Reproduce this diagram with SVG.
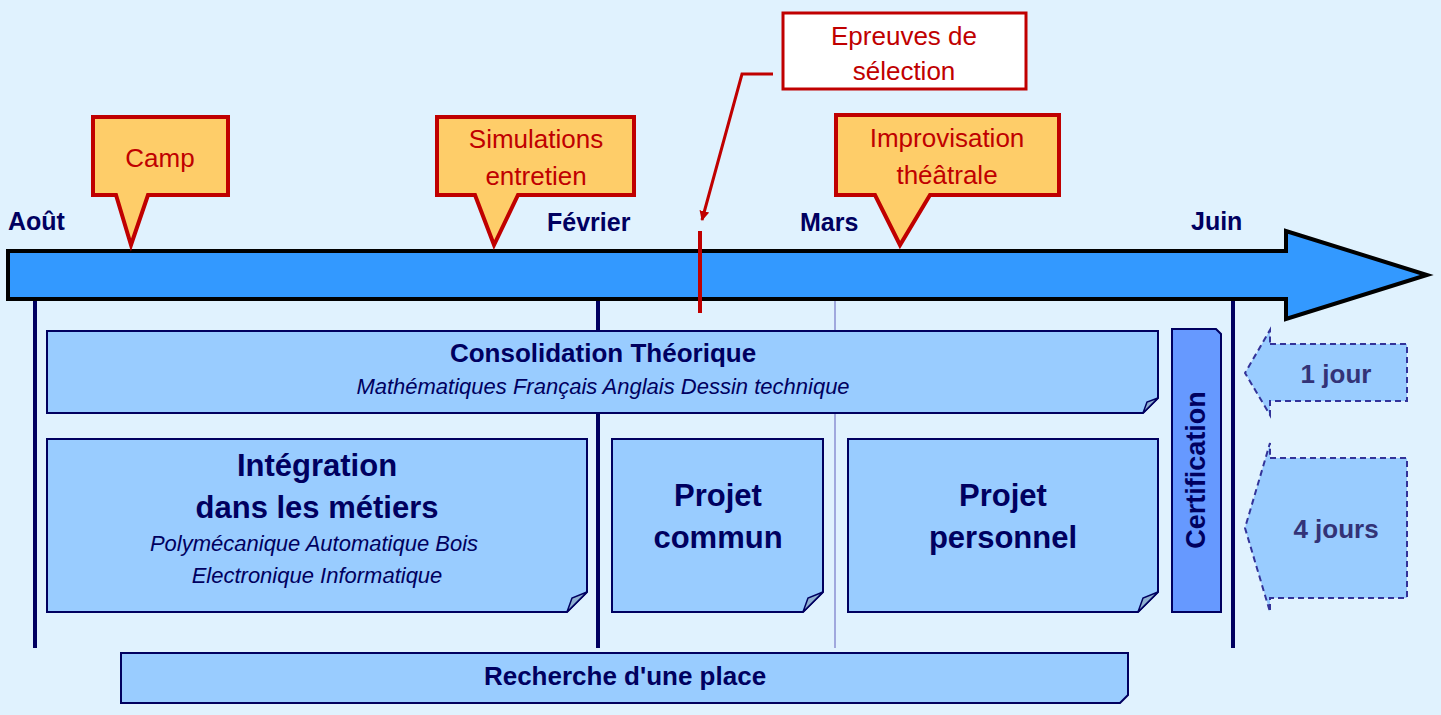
<svg xmlns="http://www.w3.org/2000/svg" width="1441" height="715" viewBox="0 0 1441 715">
<style>
.bg{fill:#e0f2fe}
.call{fill:#fecd69;stroke:#c00000;stroke-width:4;stroke-linejoin:miter}
.ct{font-family:"Liberation Sans",Arial,sans-serif;font-size:26px;fill:#c00000;text-anchor:middle}
.mon{font-family:"Liberation Sans",Arial,sans-serif;font-size:25px;font-weight:bold;fill:#000060}
.box{fill:#99ccff;stroke:#000060;stroke-width:2}
.fold{fill:#8fb0d0;stroke:#000060;stroke-width:1.5}
.bt{font-family:"Liberation Sans",Arial,sans-serif;font-weight:bold;fill:#000060;text-anchor:middle}
.it{font-family:"Liberation Sans",Arial,sans-serif;font-style:italic;font-size:22px;fill:#000060;text-anchor:middle}
.vl{stroke:#000060;stroke-width:4}
.dash{fill:#99ccff;stroke:#333399;stroke-width:2;stroke-dasharray:6,4}
.dt{font-family:"Liberation Sans",Arial,sans-serif;font-weight:bold;font-size:26px;fill:#333377;text-anchor:middle}
</style>
<defs>
<marker id="ah" markerWidth="12" markerHeight="12" refX="9" refY="5" orient="auto" markerUnits="userSpaceOnUse"><path d="M0,0 L10,5 L0,10 Z" fill="#c00000"/></marker>
</defs>
<rect class="bg" width="1441" height="715"/>
<g id="connectors">
<line class="vl" x1="35" y1="298" x2="35" y2="648"/>
<line class="vl" x1="598" y1="298" x2="598" y2="648"/>
<line x1="835" y1="298" x2="835" y2="648" stroke="#a0a8dd" stroke-width="2"/>
<line class="vl" x1="1233" y1="298" x2="1233" y2="648"/>
<polyline points="773,74 742,74 702,220" fill="none" stroke="#c00000" stroke-width="3" marker-end="url(#ah)"/>
</g>
<g id="timeline">
<path d="M8,251 L1286,251 L1286,231 L1427,275 L1286,319 L1286,299 L8,299 Z" fill="#3399ff" stroke="#000" stroke-width="4"/>
<line x1="700" y1="231" x2="700" y2="313" stroke="#c00000" stroke-width="4"/>
<text class="mon" x="8" y="230">Août</text>
<text class="mon" x="547" y="231">Février</text>
<text class="mon" x="800" y="231">Mars</text>
<text class="mon" x="1191" y="230">Juin</text>
</g>
<g id="camp"><path class="call" d="M93,117 H228 V195 H148 L131,245 L116,195 H93 Z"/><text class="ct" x="160" y="167">Camp</text></g>
<g id="simulations"><path class="call" d="M437,117 H634 V195 H518 L494,245 L475,195 H437 Z"/><text class="ct" x="536" y="148">Simulations</text><text class="ct" x="536" y="185">entretien</text></g>
<g id="improvisation"><path class="call" d="M836,115 H1059 V195 H930 L900,245 L875,195 H836 Z"/><text class="ct" x="947" y="147">Improvisation</text><text class="ct" x="947" y="184">théâtrale</text></g>
<g id="epreuves"><rect x="783" y="13" width="243" height="76" fill="#fff" stroke="#c00000" stroke-width="3"/><text class="ct" x="904" y="45">Epreuves de</text><text class="ct" x="904" y="80">sélection</text></g>
<g id="consolidation"><path class="box" d="M47,331 H1158 V398 L1143,413 H47 Z"/><path class="fold" d="M1143,413 L1147,402 L1158,398 Z"/><text class="bt" x="603" y="362" font-size="26">Consolidation Théorique</text><text class="it" x="603" y="394">Mathématiques    Français    Anglais    Dessin technique</text></g>
<g id="integration"><path class="box" d="M47,439 H587 V592 L567,612 H47 Z"/><path class="fold" d="M567,612 L572,598 L587,592 Z"/><text class="bt" x="317" y="476" font-size="31">Intégration</text><text class="bt" x="317" y="518" font-size="31">dans les métiers</text><text class="it" x="314" y="551">Polymécanique   Automatique   Bois</text><text class="it" x="317" y="583">Electronique   Informatique</text></g>
<g id="commun"><path class="box" d="M612,439 H823 V592 L803,612 H612 Z"/><path class="fold" d="M803,612 L808,598 L823,592 Z"/><text class="bt" x="718" y="506" font-size="31">Projet</text><text class="bt" x="718" y="548" font-size="31">commun</text></g>
<g id="personnel"><path class="box" d="M848,439 H1158 V592 L1138,612 H848 Z"/><path class="fold" d="M1138,612 L1143,598 L1158,592 Z"/><text class="bt" x="1003" y="506" font-size="31">Projet</text><text class="bt" x="1003" y="548" font-size="31">personnel</text></g>
<g id="certification"><path d="M1172,329 H1216 L1221,334 V612 H1172 Z" fill="#6699ff" stroke="#000060" stroke-width="2"/><text class="bt" font-size="27" transform="translate(1205,470) rotate(-90)">Certification</text></g>
<g id="recherche"><path class="box" d="M121,653 H1128 V695 L1120,703 H121 Z"/><text class="bt" x="625" y="685" font-size="26">Recherche d'une place</text></g>
<g id="jour1"><path class="dash" d="M1270,344 H1407 V401 H1270 V415 L1245,373 L1270,330 Z"/><text class="dt" x="1336" y="383">1 jour</text></g>
<g id="jours4"><path class="dash" d="M1270,458 H1407 V598 H1270 V612 L1245,528 L1270,443 Z"/><text class="dt" x="1336" y="538">4 jours</text></g>
</svg>
